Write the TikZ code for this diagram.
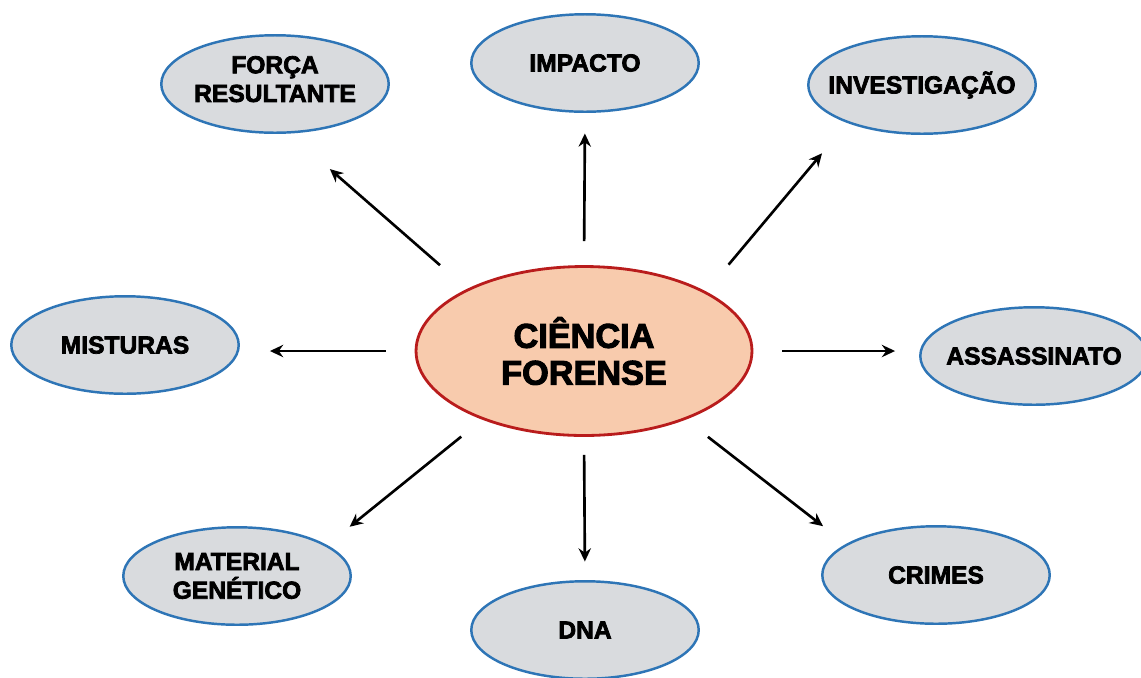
\documentclass[tikz,border=0pt]{standalone}
\usepackage{fontspec}
\setmainfont{Liberation Sans}[BoldFeatures={FakeBold=3}]
\usetikzlibrary{arrows.meta,shapes.geometric}

\definecolor{ovalblue}{RGB}{46,117,182}
\definecolor{ovalgray}{RGB}{217,219,222}
\definecolor{mainred}{RGB}{185,28,28}
\definecolor{mainpeach}{RGB}{248,203,173}

\begin{document}
\begin{tikzpicture}[
    x=0.02cm, y=-0.02cm,
    >={Stealth[length=7.5pt,width=7pt]},
    ovalnode/.style={ellipse, draw=ovalblue, fill=ovalgray, line width=1.4pt, minimum width=4.55cm, minimum height=1.95cm, inner xsep=-0.8cm, inner ysep=0pt, align=center, font=\fontsize{14}{16.3}\selectfont\bfseries},
    mainnode/.style={ellipse, draw=mainred, fill=mainpeach, line width=1.6pt, minimum width=6.72cm, minimum height=3.38cm, inner sep=0pt, align=center, font=\fontsize{19.5}{21}\selectfont\bfseries},
    link/.style={->, line width=1.5pt},
  ]
  \useasboundingbox (0,0) rectangle (1141,677);
  \fill[white] (0,0) rectangle (1141,677);
  \clip (0,0) rectangle (1141,677);

  % mind map
  \node[mainnode] (cf) at (584,351) {CIÊNCIA\\FORENSE};
  \node[ovalnode, text depth=0.2cm] (forca) at (275,84) {FORÇA\\RESULTANTE};
  \node[ovalnode] (impacto) at (585,63) {IMPACTO};
  \node[ovalnode] (investigacao) at (922,85) {INVESTIGAÇÃO};
  \node[ovalnode] (misturas) at (125,345) {MISTURAS};
  \node[ovalnode] (assassinato) at (1034,356) {ASSASSINATO};
  \node[ovalnode] (material) at (237,576) {MATERIAL\\GENÉTICO};
  \node[ovalnode] (dna) at (585,630) {DNA};
  \node[ovalnode] (crimes) at (936,575) {CRIMES};

  \draw[link, shorten <=0.72cm, shorten >=1.08cm] (cf.152) -- (forca.286);
  \draw[link, shorten <=0.48cm, shorten >=0.41cm] (cf.90) -- (impacto.270);
  \draw[link, shorten <=0.70cm, shorten >=0.79cm] (cf.26) -- (investigacao.207);
  \draw[link, shorten <=0.58cm, shorten >=0.60cm] (cf.west) -- (cf.west -| misturas.east);
  \draw[link, shorten <=0.58cm, shorten >=0.48cm] (cf.east) -- (cf.east -| assassinato.west);
  \draw[link, shorten <=0.54cm, shorten >=0.58cm] (cf.214) -- (material.19);
  \draw[link, shorten <=0.36cm, shorten >=0.37cm] (cf.270) -- (dna.90);
  \draw[link, shorten <=0.56cm, shorten >=0.58cm] (cf.326) -- (crimes.161);
\end{tikzpicture}
\end{document}
